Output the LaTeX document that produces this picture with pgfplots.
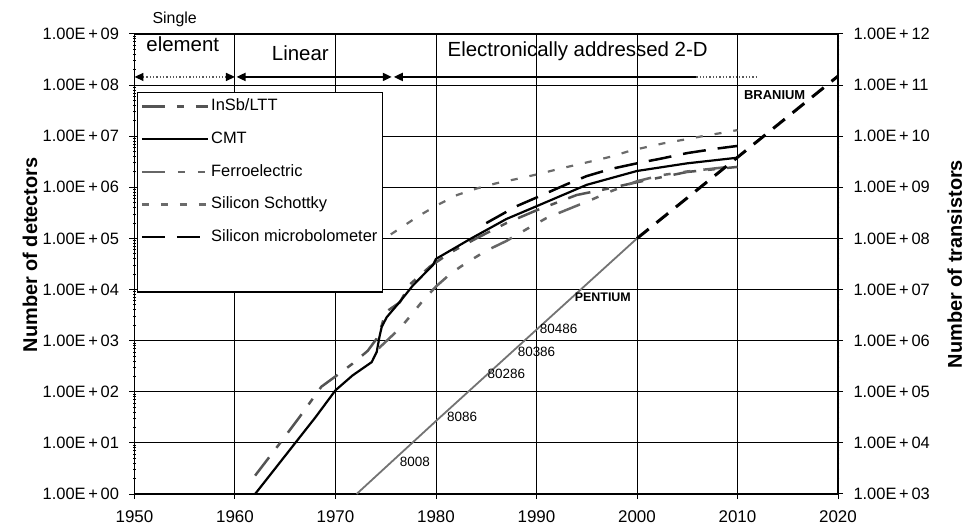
\documentclass[border=0pt]{standalone}
\usepackage{fontspec}
\setmainfont{Liberation Sans}
\usepackage{pgfplots}
\pgfplotsset{compat=1.18}
\usetikzlibrary{arrows.meta}
\definecolor{gInSb}{gray}{0.33}
\definecolor{gFerro}{gray}{0.40}
\definecolor{gSchot}{gray}{0.42}
\definecolor{gTrans}{gray}{0.45}
\begin{document}
\begin{tikzpicture}
\useasboundingbox (-134.5bp,-33bp) rectangle (830.5bp,494bp);
\begin{axis}[
  at={(0,0)}, anchor=south west,
  scale only axis, width=703.5bp, height=460bp,
  xmin=1950, xmax=2020, ymode=log, ymin=1, ymax=1e9,
  clip=false,
  xtick={1950,1960,1970,1980,1990,2000,2010,2020},
  xticklabels={1950,1960,1970,1980,1990,2000,2010,2020},
  ytick={1,10,100,1000,10000,100000,1000000,10000000,100000000,1000000000},
  yticklabels={1.00E\,+\,00,1.00E\,+\,01,1.00E\,+\,02,1.00E\,+\,03,1.00E\,+\,04,1.00E\,+\,05,1.00E\,+\,06,1.00E\,+\,07,1.00E\,+\,08,1.00E\,+\,09},
  ytick pos=left, xtick pos=bottom,
  grid=major, major grid style={black, line width=1bp},
  axis line style={black, line width=1.2bp},
  tick style={black, line width=1bp},
  tick align=center, major tick length=10bp,
  xticklabel style={font=\fontsize{17}{19}\selectfont, yshift=-8bp},
  yticklabel style={font=\fontsize{16.5}{18}\selectfont, xshift=-7bp},
  ylabel={Number of detectors},
  every axis y label/.style={at={(axis description cs:-0.1486,0.52)}, rotate=90, anchor=center, font=\bfseries\fontsize{20}{22}\selectfont},
  legend style={at={(axis description cs:0.0036,0.874)}, anchor=north west, draw=black, line width=1.3bp, fill=white,
    inner xsep=3bp, inner ysep=4bp, row sep=13.2bp, font=\fontsize{16.5}{18}\selectfont,
    nodes={inner sep=2bp, text height=12bp, text depth=3.5bp}, cells={anchor=west}},
  legend image code/.code={\draw[#1] (0bp,0bp) -- (66bp,0bp);},
]
% InSb/LTT
\addplot[gInSb, line width=2.5bp, dash pattern=on 23bp off 12bp on 7bp off 12bp] coordinates {
(1962,2.29) (1964.3,8.9) (1966.4,31.6) (1968.6,126) (1970,200) (1971.7,355) (1973.2,631) (1974.1,1096)
(1974.6,1995) (1975,3631) (1976.4,5623) (1977.4,12590) (1979.4,28180) (1981.4,52480) (1984,100000)
(1987,199500) (1990,354800) (1994,707900) (1997,933000) (2000,1260000) (2005,2000000) (2010,2510000)};
\addlegendentry{InSb/LTT}
% CMT
\addplot[black, line width=2.2bp] coordinates {
(1962,1) (1964,3.16) (1966,10) (1968,31.6) (1970,107) (1971.7,209) (1973.6,380) (1974.1,603) (1974.4,1259)
(1974.6,1862) (1975.1,2884) (1976.4,5754) (1977.7,12023) (1979.7,30200) (1980,39810) (1983.5,100000)
(1987,239900) (1990,426600) (1995,1120000) (2000,2090000) (2005,2950000) (2010,3800000)};
\addlegendentry{CMT}
% Ferroelectric
\addplot[gFerro, line width=2.5bp, dash pattern=on 23bp off 13bp on 7bp off 13bp on 7bp off 13bp] coordinates {
(1974.3,708) (1975,955) (1976.4,1738) (1977.4,2951) (1978.6,5754) (1980,11480) (1981.5,20890) (1983,33110)
(1985,57540) (1987,89130) (1989,151400) (1991,251200) (1993.5,398100) (1995.5,575400) (1997.5,851100)
(2000,1318000) (2002.5,1738000) (2005,2040000) (2010,2630000)};
\addlegendentry{Ferroelectric}
% Silicon Schottky
\addplot[gSchot, line width=2.2bp, dash pattern=on 7bp off 12bp] coordinates {
(1975.5,120000) (1978.2,269200) (1980.1,446700) (1982.1,707900) (1984.1,955000) (1986,1200000) (1988.4,1510000)
(1990.4,1860000) (1992.4,2340000) (1994.2,2820000) (1997.4,3980000) (1999.4,5250000) (2002.6,7240000)
(2004.6,8510000) (2006.5,10000000) (2008.3,11480000) (2010,13180000)};
\addlegendentry{Silicon Schottky}
% Silicon microbolometer
\addplot[black, line width=2.5bp, dash pattern=on 23bp off 12bp] coordinates {
(1985,199500) (1988,426600) (1990,631000) (1993,1148000) (1995,1660000) (1997.4,2290000) (2000,2950000)
(2002.6,3720000) (2005,4680000) (2008,5750000) (2010,6460000)};
\addlegendentry{Silicon microbolometer}
\addlegendimage{empty legend}
\addlegendentry[text depth=12bp]{}
% top annotations
\node[font=\fontsize{16}{18}\selectfont, anchor=base] at (axis cs:1954.0,1.58e9) {Single};
\node[font=\fontsize{20.5}{22}\selectfont, anchor=base] at (axis cs:1954.8,4.47e8) {element};
\node[font=\fontsize{20.5}{22}\selectfont, anchor=base] at (axis cs:1966.5,3.0e8) {Linear};
\node[font=\fontsize{20.5}{22}\selectfont, anchor=base] at (axis cs:1994.1,3.55e8) {Electronically addressed 2-D};
\draw[gray!70!black, line width=1.3bp, dotted, {Triangle[length=9bp,width=8bp,color=black]}-{Triangle[length=9bp,width=8bp,color=black]}] (axis cs:1950,1.445e8) -- (axis cs:1960,1.445e8);
\draw[black, line width=1.8bp, {Triangle[length=9bp,width=8bp]}-{Triangle[length=9bp,width=8bp]}] (axis cs:1960.15,1.445e8) -- (axis cs:1975.6,1.445e8);
\draw[black, line width=2bp, {Triangle[length=9bp,width=8bp]}-] (axis cs:1975.8,1.445e8) -- (axis cs:2005.9,1.445e8);
\draw[gray!70!black, line width=1.3bp, dotted] (axis cs:2005.9,1.445e8) -- (axis cs:2011.9,1.445e8);
\end{axis}
\begin{axis}[
  at={(0,0)}, anchor=south west,
  scale only axis, width=703.5bp, height=460bp,
  xmin=1950, xmax=2020, ymode=log, ymin=1e3, ymax=1e12,
  clip=false,
  axis x line=none, axis y line*=right,
  ytick={1e3,1e4,1e5,1e6,1e7,1e8,1e9,1e10,1e11,1e12},
  yticklabels={1.00E\,+\,03,1.00E\,+\,04,1.00E\,+\,05,1.00E\,+\,06,1.00E\,+\,07,1.00E\,+\,08,1.00E\,+\,09,1.00E\,+\,10,1.00E\,+\,11,1.00E\,+\,12},
  axis line style={black, line width=1.2bp},
  tick style={black, line width=1bp},
  tick align=center, major tick length=10bp,
  yticklabel style={font=\fontsize{16.5}{18}\selectfont, xshift=7bp},
  ylabel={Number of  transistors},
  every axis y label/.style={at={(axis description cs:1.166,0.5)}, rotate=90, anchor=center, font=\bfseries\fontsize{20}{22}\selectfont},
]
\addplot[gTrans, line width=1.8bp] coordinates {(1972.1,1000) (1980,26800) (1990,1640000) (2000,100000000)};
\addplot[black, line width=3bp, dash pattern=on 15bp off 10bp] coordinates {(2000,100000000) (2010,3870000000) (2020,150000000000)};
\node[font=\fontsize{13.5}{15}\selectfont] at (axis cs:1977.9,4266) {8008};
\node[font=\fontsize{13.5}{15}\selectfont] at (axis cs:1982.6,32360) {8086};
\node[font=\fontsize{13.5}{15}\selectfont] at (axis cs:1987.0,229000) {80286};
\node[font=\fontsize{13.5}{15}\selectfont] at (axis cs:1990.0,602600) {80386};
\node[font=\fontsize{13.5}{15}\selectfont] at (axis cs:1992.2,1740000) {80486};
\node[font=\bfseries\fontsize{12.5}{14}\selectfont] at (axis cs:1996.6,7080000) {PENTIUM};
\node[font=\bfseries\fontsize{13}{14}\selectfont] at (axis cs:2013.7,64600000000) {BRANIUM};
\end{axis}
\end{tikzpicture}
\end{document}
